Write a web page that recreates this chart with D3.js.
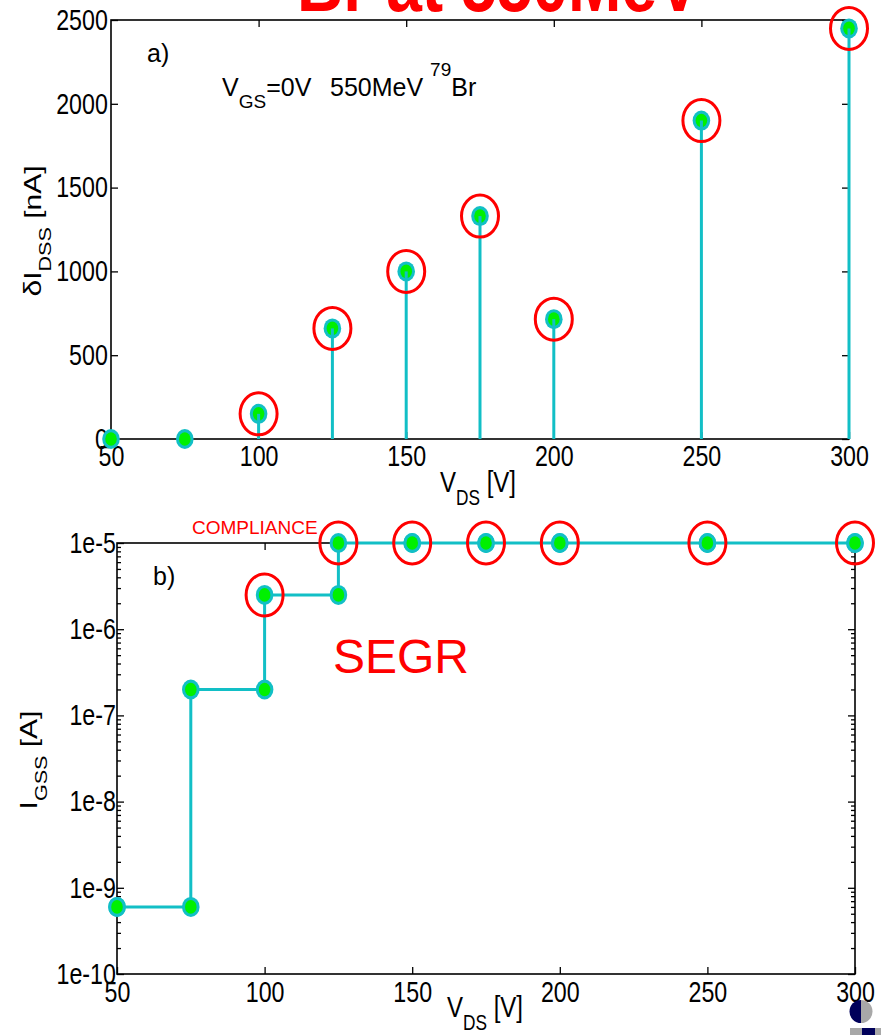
<!DOCTYPE html>
<html>
<head>
<meta charset="utf-8">
<script src="https://cdn.jsdelivr.net/npm/d3@7"></script>
<style>
  body { margin: 0; background: #fff; }
  svg { display: block; }
</style>
</head>
<body>
<svg id="chart" width="881" height="1035"></svg>
<script>
// Drain-source voltage steps of the irradiation run
const vds = [50, 75, 100, 125, 150, 175, 200, 250, 300];
// a) drain leakage increase after each run [nA]
const dIdss = [0, 0, 150, 660, 1000, 1330, 715, 1900, 2450];
// b) gate leakage before and after each run [A]
const igssBefore = [6e-10, 6e-10, 2e-7, 2.5e-6, 1e-5, 1e-5, 1e-5, 1e-5, 1e-5];
const igssAfter  = [6e-10, 2e-7, 2.5e-6, 1e-5, 1e-5, 1e-5, 1e-5, 1e-5, 1e-5];
// runs flagged with a gate rupture event
const segrFlag = [false, false, true, true, true, true, true, true, true];

const xTicks = [50, 100, 150, 200, 250, 300];
const yTicksA = [0, 500, 1000, 1500, 2000, 2500];
const yTicksB = [1e-10, 1e-9, 1e-8, 1e-7, 1e-6, 1e-5];
const yLabelsB = ["1e-10", "1e-9", "1e-8", "1e-7", "1e-6", "1e-5"];

const CYAN = "#12BFC6";
const GREEN = "#00F000";
const RED = "#FF0000";
const FONT = "'Liberation Sans', Arial, Helvetica, sans-serif";
const SQ = 0.8; // horizontal condensing of the axis lettering

const svg = d3.select("#chart");

function styleAxis(g, fs) {
  g.select(".domain").remove();
  g.selectAll(".tick line").attr("stroke", "#000").attr("stroke-width", 1.3);
  g.selectAll(".tick text")
    .attr("font-family", FONT)
    .attr("font-size", fs)
    .attr("fill", "#000")
    .attr("transform", `scale(${SQ},1)`);
}

function frame(x0, x1, y0, y1) {
  svg.append("rect")
    .attr("x", x0).attr("y", y0)
    .attr("width", x1 - x0).attr("height", y1 - y0)
    .attr("fill", "none").attr("stroke", "#000").attr("stroke-width", 1.6);
}

function marker(g, cx, cy) {
  g.append("ellipse").attr("cx", cx).attr("cy", cy).attr("rx", 8.8).attr("ry", 10)
    .attr("fill", CYAN);
  g.append("ellipse").attr("cx", cx).attr("cy", cy).attr("rx", 5.8).attr("ry", 6.8)
    .attr("fill", GREEN);
}

function ring(g, cx, cy) {
  g.append("ellipse").attr("cx", cx).attr("cy", cy).attr("rx", 18.5).attr("ry", 21)
    .attr("fill", "none").attr("stroke", RED).attr("stroke-width", 3);
}

// condensed text block with sub/superscripts
function richText(x, y, parts, fs, opts = {}) {
  const rot = opts.rotate ? " rotate(-90)" : "";
  const t = svg.append("text")
    .attr("transform", `translate(${x},${y}) scale(${opts.sq || 1},1)${rot}`)
    .attr("font-family", FONT)
    .attr("font-size", fs)
    .attr("fill", opts.fill || "#000")
    .attr("text-anchor", opts.anchor || "start");
  let shift = 0;
  parts.forEach(p => {
    const ts = t.append("tspan").text(p.t);
    const target = p.sub ? fs * 0.42 : p.sup ? -fs * 0.38 : 0;
    ts.attr("dy", target - shift);
    shift = target;
    if (p.sub || p.sup) ts.attr("font-size", fs * (p.size || 0.72));
  });
  return t;
}

// ---------------- Title (partly above the page edge) ----------------
svg.append("text")
  .attr("x", 297).attr("y", 11)
  .attr("font-family", FONT).attr("font-size", 77).attr("font-weight", "bold")
  .attr("fill", RED)
  .attr("textLength", 403).attr("lengthAdjust", "spacingAndGlyphs")
  .text("Br at 550MeV");

// ---------------- Panel a) ----------------
const xA = d3.scaleLinear().domain([50, 300]).range([111, 849]);
const yA = d3.scaleLinear().domain([0, 2500]).range([439, 20]);

frame(xA.range()[0], xA.range()[1], yA.range()[1], yA.range()[0]);

svg.append("g").attr("transform", `translate(${xA.range()[0]},0)`)
  .call(d3.axisLeft(yA).tickValues(yTicksA).tickFormat(d3.format("d"))
    .tickSizeInner(-7).tickSizeOuter(0).tickPadding(4))
  .call(g => styleAxis(g, 29));
svg.append("g").attr("transform", `translate(${xA.range()[1]},0)`)
  .call(d3.axisRight(yA).tickValues(yTicksA).tickSizeInner(-7).tickSizeOuter(0).tickFormat(""))
  .call(g => styleAxis(g, 29));
svg.append("g").attr("transform", `translate(0,${yA.range()[0]})`)
  .call(d3.axisBottom(xA).tickValues(xTicks).tickFormat(d3.format("d"))
    .tickSizeInner(-7).tickSizeOuter(0).tickPadding(6.4))
  .call(g => styleAxis(g, 29));
svg.append("g").attr("transform", `translate(0,${yA.range()[1]})`)
  .call(d3.axisTop(xA).tickValues(xTicks.slice(1, -1)).tickSizeInner(-7).tickSizeOuter(0).tickFormat(""))
  .call(g => styleAxis(g, 29));

const gA = svg.append("g");
vds.forEach((v, i) => marker(gA, xA(v), yA(dIdss[i])));
vds.forEach((v, i) => {
  gA.append("line")
    .attr("x1", xA(v)).attr("x2", xA(v))
    .attr("y1", yA(dIdss[i])).attr("y2", yA(0))
    .attr("stroke", CYAN).attr("stroke-width", 3);
});
vds.forEach((v, i) => { if (segrFlag[i]) ring(gA, xA(v), yA(dIdss[i])); });

svg.append("text").attr("x", 147).attr("y", 62)
  .attr("font-family", FONT).attr("font-size", 25).text("a)");

// V_GS = 0V   550MeV 79Br
const info = svg.append("text").attr("x", 222).attr("y", 96)
  .attr("font-family", FONT).attr("font-size", 25).attr("fill", "#000");
info.append("tspan").text("V");
info.append("tspan").attr("dy", 12).attr("font-size", 19).text("GS");
info.append("tspan").attr("dy", -12).text("=0V");
info.append("tspan").attr("x", 330).text("550MeV ");
info.append("tspan").attr("dy", -20).attr("font-size", 19).text("79");
info.append("tspan").attr("dy", 20).text("Br");

richText(440, 492, [{t: "V"}, {t: "DS", sub: true}, {t: " [V]"}], 30, {sq: SQ});
richText(41, 231, [{t: "δI"}, {t: "DSS", sub: true}, {t: " [nA]"}], 30, {sq: SQ, rotate: true, anchor: "middle"});

// ---------------- Panel b) ----------------
const xB = d3.scaleLinear().domain([50, 300]).range([117, 855]);
const yB = d3.scaleLog().domain([1e-10, 1e-5]).range([974, 543]);

frame(xB.range()[0], xB.range()[1], yB.range()[1], yB.range()[0]);

const minorB = [];
for (let e = -10; e < -5; e++) for (let m = 2; m <= 9; m++) minorB.push(m * Math.pow(10, e));

svg.append("g").attr("transform", `translate(${xB.range()[0]},0)`)
  .call(d3.axisLeft(yB).tickValues(yTicksB).tickFormat((d, i) => yLabelsB[i])
    .tickSizeInner(-7).tickSizeOuter(0).tickPadding(1.5))
  .call(g => styleAxis(g, 29));
svg.append("g").attr("transform", `translate(${xB.range()[0]},0)`)
  .call(d3.axisLeft(yB).tickValues(minorB).tickFormat("").tickSizeInner(-4).tickSizeOuter(0))
  .call(g => styleAxis(g, 29));
svg.append("g").attr("transform", `translate(${xB.range()[1]},0)`)
  .call(d3.axisRight(yB).tickValues(yTicksB).tickFormat("").tickSizeInner(-7).tickSizeOuter(0))
  .call(g => styleAxis(g, 29));
svg.append("g").attr("transform", `translate(${xB.range()[1]},0)`)
  .call(d3.axisRight(yB).tickValues(minorB).tickFormat("").tickSizeInner(-4).tickSizeOuter(0))
  .call(g => styleAxis(g, 29));
svg.append("g").attr("transform", `translate(0,${yB.range()[0]})`)
  .call(d3.axisBottom(xB).tickValues(xTicks).tickFormat(d3.format("d"))
    .tickSizeInner(-7).tickSizeOuter(0).tickPadding(7.4))
  .call(g => styleAxis(g, 29));
svg.append("g").attr("transform", `translate(0,${yB.range()[1]})`)
  .call(d3.axisTop(xB).tickValues(xTicks.slice(1, -1)).tickSizeInner(-7).tickSizeOuter(0).tickFormat(""))
  .call(g => styleAxis(g, 29));

const stepPts = vds.flatMap((v, i) => [[v, igssBefore[i]], [v, igssAfter[i]]]);
const gB = svg.append("g");
gB.append("path")
  .datum(stepPts)
  .attr("d", d3.line().x(d => xB(d[0])).y(d => yB(d[1])))
  .attr("fill", "none").attr("stroke", CYAN).attr("stroke-width", 3);
stepPts.forEach(d => marker(gB, xB(d[0]), yB(d[1])));
vds.forEach((v, i) => { if (segrFlag[i]) ring(gB, xB(v), yB(igssAfter[i])); });

svg.append("text").attr("x", 153).attr("y", 585)
  .attr("font-family", FONT).attr("font-size", 25).text("b)");
svg.append("text").attr("x", 192).attr("y", 534)
  .attr("font-family", FONT).attr("font-size", 19).attr("fill", RED).text("COMPLIANCE");
svg.append("text").attr("x", 333).attr("y", 673)
  .attr("font-family", FONT).attr("font-size", 48).attr("fill", RED).text("SEGR");

richText(447, 1017, [{t: "V"}, {t: "DS", sub: true}, {t: " [V]"}], 30, {sq: SQ});
richText(37, 760, [{t: "I"}, {t: "GSS", sub: true}, {t: " [A]"}], 30, {sq: SQ, rotate: true, anchor: "middle"});

// ---------------- Corner emblem ----------------
const logo = svg.append("g");
logo.append("path")
  .attr("d", d3.arc()({innerRadius: 0, outerRadius: 11.5, startAngle: Math.PI, endAngle: 2 * Math.PI}))
  .attr("transform", "translate(861,1011.5)").attr("fill", "#00005A");
logo.append("path")
  .attr("d", d3.arc()({innerRadius: 0, outerRadius: 11.5, startAngle: 0, endAngle: Math.PI}))
  .attr("transform", "translate(861,1011.5)").attr("fill", "#A8A8A8");
logo.append("rect").attr("x", 850).attr("y", 1028).attr("width", 12).attr("height", 7).attr("fill", "#A8A8A8");
logo.append("rect").attr("x", 862).attr("y", 1028).attr("width", 13).attr("height", 7).attr("fill", "#00005A");
logo.append("rect").attr("x", 875).attr("y", 1028).attr("width", 6).attr("height", 7).attr("fill", "#A8A8A8");
</script>
</body>
</html>
